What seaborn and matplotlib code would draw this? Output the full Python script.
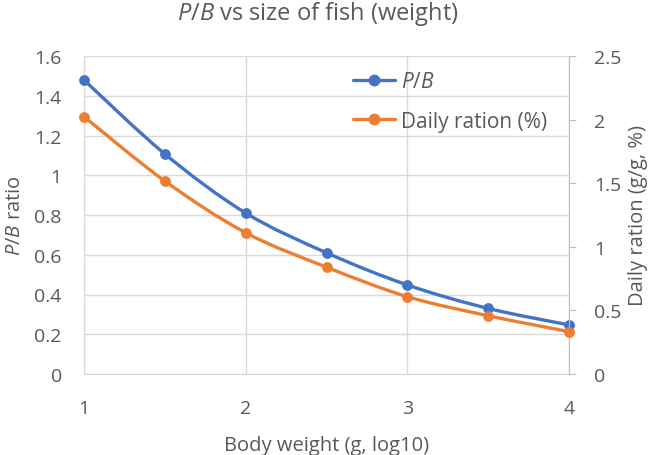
import numpy as np
import pandas as pd
import seaborn as sns
import matplotlib
matplotlib.use("Agg")
import matplotlib.pyplot as plt
from matplotlib.path import Path
from matplotlib.patches import PathPatch
from matplotlib.lines import Line2D

# ---- data ----
body_weight = [1.0, 1.5, 2.0, 2.5, 3.0, 3.5, 4.0]
pb_ratio = [1.479, 1.107, 0.810, 0.610, 0.448, 0.330, 0.247]
daily_ration = [2.023, 1.517, 1.111, 0.840, 0.608, 0.458, 0.333]
x_ticks = [1, 2, 3, 4]
left_ticks = [0, 0.2, 0.4, 0.6, 0.8, 1.0, 1.2, 1.4, 1.6]
left_tick_labels = ["0", "0.2", "0.4", "0.6", "0.8", "1", "1.2", "1.4", "1.6"]
right_ticks = [0, 0.5, 1.0, 1.5, 2.0, 2.5]
right_tick_labels = ["0", "0.5", "1", "1.5", "2", "2.5"]

BLUE = "#4472C4"
ORANGE = "#ED7D31"
TXT = "#595959"
GRID = "#D9D9D9"
FS_TICK = 14
FS_LAB = 14.5

sns.set_style("white")
plt.rcParams["font.family"] = ["Open Sans", "DejaVu Sans"]
plt.rcParams["mathtext.fontset"] = "custom"
plt.rcParams["mathtext.it"] = "Open Sans:italic"
plt.rcParams["mathtext.rm"] = "Open Sans"

fig = plt.figure(figsize=(6.57, 4.56), dpi=100)
ax = fig.add_axes([84 / 657, 1 - 375 / 456, (569 - 84) / 657, (375 - 57) / 456])
ax2 = ax.twinx()

df = pd.DataFrame({"x": body_weight, "pb": pb_ratio, "dr": daily_ration})


def smooth_path(xs, ys):
    pts = np.column_stack([xs, ys])
    n = len(pts)
    verts = [pts[0]]
    codes = [Path.MOVETO]
    for i in range(n - 1):
        p0 = pts[i - 1] if i > 0 else pts[i]
        p1 = pts[i]
        p2 = pts[i + 1]
        p3 = pts[i + 2] if i + 2 < n else pts[i + 1]
        c1 = p1 + (p2 - p0) / 6.0
        c2 = p2 - (p3 - p1) / 6.0
        verts += [c1, c2, p2]
        codes += [Path.CURVE4] * 3
    return Path(verts, codes)


# smooth lines (Excel-like)
ax.add_patch(PathPatch(smooth_path(df["x"], df["pb"]), fill=False, edgecolor=BLUE,
                       lw=2.4, zorder=3, capstyle="round"))
ax2.add_patch(PathPatch(smooth_path(df["x"], df["dr"]), fill=False, edgecolor=ORANGE,
                        lw=2.4, zorder=3, capstyle="round"))
# markers
sns.scatterplot(data=df, x="x", y="pb", ax=ax, color=BLUE, s=52, edgecolor=BLUE,
                linewidth=0.5, zorder=4, legend=False, clip_on=False)
sns.scatterplot(data=df, x="x", y="dr", ax=ax2, color=ORANGE, s=52, edgecolor=ORANGE,
                linewidth=0.5, zorder=4, legend=False, clip_on=False)

ax.set_xlim(1, 4)
ax.set_ylim(0, 1.6)
ax2.set_ylim(0, 2.5)
ax.set_xticks(x_ticks)
ax.set_xticklabels([str(t) for t in x_ticks])
ax.set_yticks(left_ticks)
ax.set_yticklabels(left_tick_labels)
ax2.set_yticks(right_ticks)
ax2.set_yticklabels(right_tick_labels)

ax.grid(True, color=GRID, lw=1.0)
ax.set_axisbelow(True)
ax2.grid(False)

for a in (ax, ax2):
    for s in a.spines.values():
        s.set_visible(False)
ax.spines["left"].set_visible(True)
ax.spines["left"].set_color(GRID)
ax.spines["bottom"].set_visible(True)
ax.spines["bottom"].set_color(GRID)
ax2.spines["right"].set_visible(True)
ax2.spines["right"].set_color("#BFBFBF")

ax.tick_params(axis="y", length=0, labelsize=FS_TICK, labelcolor=TXT, pad=16)
ax.tick_params(axis="x", length=0, labelsize=FS_TICK, labelcolor=TXT, pad=18)
ax2.tick_params(axis="y", length=5, color="#BFBFBF", labelsize=FS_TICK, labelcolor=TXT, pad=13)

ax.set_xlabel("Body weight (g, log10)", fontsize=FS_LAB, color=TXT, labelpad=13)
ax.set_ylabel("$P/B$ ratio", fontsize=FS_LAB, color=TXT, labelpad=7)
ax2.set_ylabel("Daily ration (g/g, %)", fontsize=FS_LAB, color=TXT, labelpad=5)
fig.text(318 / 657, 1 - 14 / 456, "$P/B$ vs size of fish (weight)", fontsize=17,
         color=TXT, ha="center", va="center")

handles = [
    Line2D([], [], color=BLUE, lw=2.4, marker="o", markersize=7.5),
    Line2D([], [], color=ORANGE, lw=2.4, marker="o", markersize=7.5),
]
leg = fig.legend(handles, ["$P/B$", "Daily ration (%)"], loc="upper left",
                 bbox_to_anchor=(353 / 657, 1 - 72 / 456), frameon=False,
                 borderpad=0, borderaxespad=0,
                 fontsize=15, labelcolor=TXT, handlelength=2.0,
                 handletextpad=0.3, labelspacing=0.9)

fig.savefig("out.png", dpi=100)
